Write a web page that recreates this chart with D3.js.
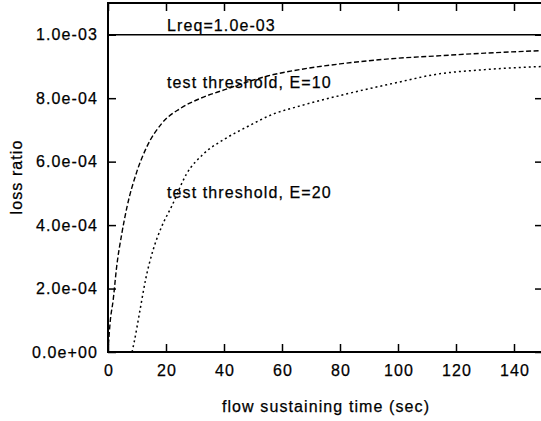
<!DOCTYPE html>
<html>
<head>
<meta charset="utf-8">
<script src="https://cdn.jsdelivr.net/npm/d3@7"></script>
<style>
  body { margin: 0; background: #fff; }
  svg { display: block; }
  text { font-family: "Liberation Sans", Arial, sans-serif; font-size: 16px; letter-spacing: 1.1px; fill: #000; stroke: #000; stroke-width: 0.25px; }
</style>
</head>
<body>
<svg width="541" height="421"></svg>
<script>
// Values (loss ratio vs flow sustaining time)
const timeE10 = [0, 0.7, 1.8, 3, 4.7, 6.5, 10, 13.3, 18.5, 25, 32, 40, 55, 66, 80, 100, 113, 130, 150];
const lossE10 = [0, 0.9e-4, 1.65e-4, 2.7e-4, 3.7e-4, 4.55e-4, 5.7e-4, 6.45e-4, 7.2e-4, 7.68e-4, 8.0e-4, 8.26e-4, 8.7e-4, 8.9e-4, 9.08e-4, 9.26e-4, 9.33e-4, 9.42e-4, 9.5e-4];

const timeE20 = [8.3, 9, 11, 13, 15.5, 18.5, 22, 27, 33, 40, 48, 57, 66, 83, 100, 113, 130, 150];
const lossE20 = [0, 0.3e-4, 1.3e-4, 2.3e-4, 3.2e-4, 3.95e-4, 4.6e-4, 5.6e-4, 6.25e-4, 6.7e-4, 7.1e-4, 7.5e-4, 7.75e-4, 8.15e-4, 8.5e-4, 8.75e-4, 8.9e-4, 9.0e-4];

const lreq = 1.0e-3;

const xTicks = [0, 20, 40, 60, 80, 100, 120, 140];
const yTicks = [0, 2e-4, 4e-4, 6e-4, 8e-4, 1e-3];
const yTickLabels = ["0.0e+00", "2.0e-04", "4.0e-04", "6.0e-04", "8.0e-04", "1.0e-03"];

const svg = d3.select("svg");

const plotLeft = 108, plotRight = 543, plotTop = 3, plotBottom = 352;

const x = d3.scaleLinear().domain([0, 150]).range([plotLeft, plotRight]);
const y = d3.scaleLinear().domain([0, 1.1e-3]).range([plotBottom, plotTop]);

// clip to the plot box
svg.append("clipPath").attr("id", "plot")
  .append("rect")
  .attr("x", plotLeft).attr("y", plotTop)
  .attr("width", plotRight - plotLeft).attr("height", plotBottom - plotTop);

// axes with inward ticks (gnuplot style, mirrored)
const gx = svg.append("g")
  .attr("transform", `translate(0,${plotBottom})`)
  .call(d3.axisBottom(x).tickValues(xTicks).tickSizeInner(-8).tickSizeOuter(0).tickPadding(13));

const gy = svg.append("g")
  .attr("transform", `translate(${plotLeft},0)`)
  .call(d3.axisLeft(y).tickValues(yTicks)
    .tickFormat((d, i) => yTickLabels[i])
    .tickSizeInner(-8).tickSizeOuter(0).tickPadding(10));

const gTop = svg.append("g")
  .attr("transform", `translate(0,${plotTop})`)
  .call(d3.axisTop(x).tickValues(xTicks).tickSizeInner(-8).tickSizeOuter(0).tickFormat(""));

const gRight = svg.append("g")
  .attr("transform", `translate(${plotRight},0)`)
  .call(d3.axisRight(y).tickValues(yTicks).tickSizeInner(-8).tickSizeOuter(0).tickFormat(""));

[gx, gy, gTop, gRight].forEach((g) => {
  g.attr("font-size", null).attr("font-family", null);
  g.select(".domain").remove();
  g.selectAll(".tick line").attr("stroke", "#000").attr("stroke-width", 1.5);
  g.selectAll(".tick text").attr("fill", "#000");
});
gx.selectAll(".tick text").attr("dx", "0.55");

// frame
svg.append("rect")
  .attr("x", plotLeft).attr("y", plotTop)
  .attr("width", plotRight - plotLeft).attr("height", plotBottom - plotTop)
  .attr("fill", "none").attr("stroke", "#000").attr("stroke-width", 2);

const plot = svg.append("g").attr("clip-path", "url(#plot)");

// Lreq line
plot.append("line")
  .attr("x1", x(0)).attr("x2", x(150))
  .attr("y1", y(lreq)).attr("y2", y(lreq))
  .attr("stroke", "#000").attr("stroke-width", 1.6);

const line = d3.line()
  .x((d) => x(d[0]))
  .y((d) => y(d[1]))
  .curve(d3.curveMonotoneX);

plot.append("path")
  .datum(d3.zip(timeE10, lossE10))
  .attr("d", line)
  .attr("fill", "none").attr("stroke", "#000").attr("stroke-width", 1.4)
  .attr("stroke-dasharray", "5,2.5");

plot.append("path")
  .datum(d3.zip(timeE20, lossE20))
  .attr("d", line)
  .attr("fill", "none").attr("stroke", "#000").attr("stroke-width", 1.5)
  .attr("stroke-dasharray", "2,3");

// curve labels
svg.append("text").attr("x", 167).attr("y", 31).text("Lreq=1.0e-03");
svg.append("text").attr("x", 167).attr("y", 88).text("test threshold, E=10");
svg.append("text").attr("x", 167).attr("y", 198).text("test threshold, E=20");

// axis titles
svg.append("text")
  .attr("x", 326).attr("y", 412)
  .attr("text-anchor", "middle")
  .text("flow sustaining time (sec)");

svg.append("text")
  .attr("transform", "translate(22,177) rotate(-90)")
  .attr("text-anchor", "middle")
  .text("loss ratio");
</script>
</body>
</html>
